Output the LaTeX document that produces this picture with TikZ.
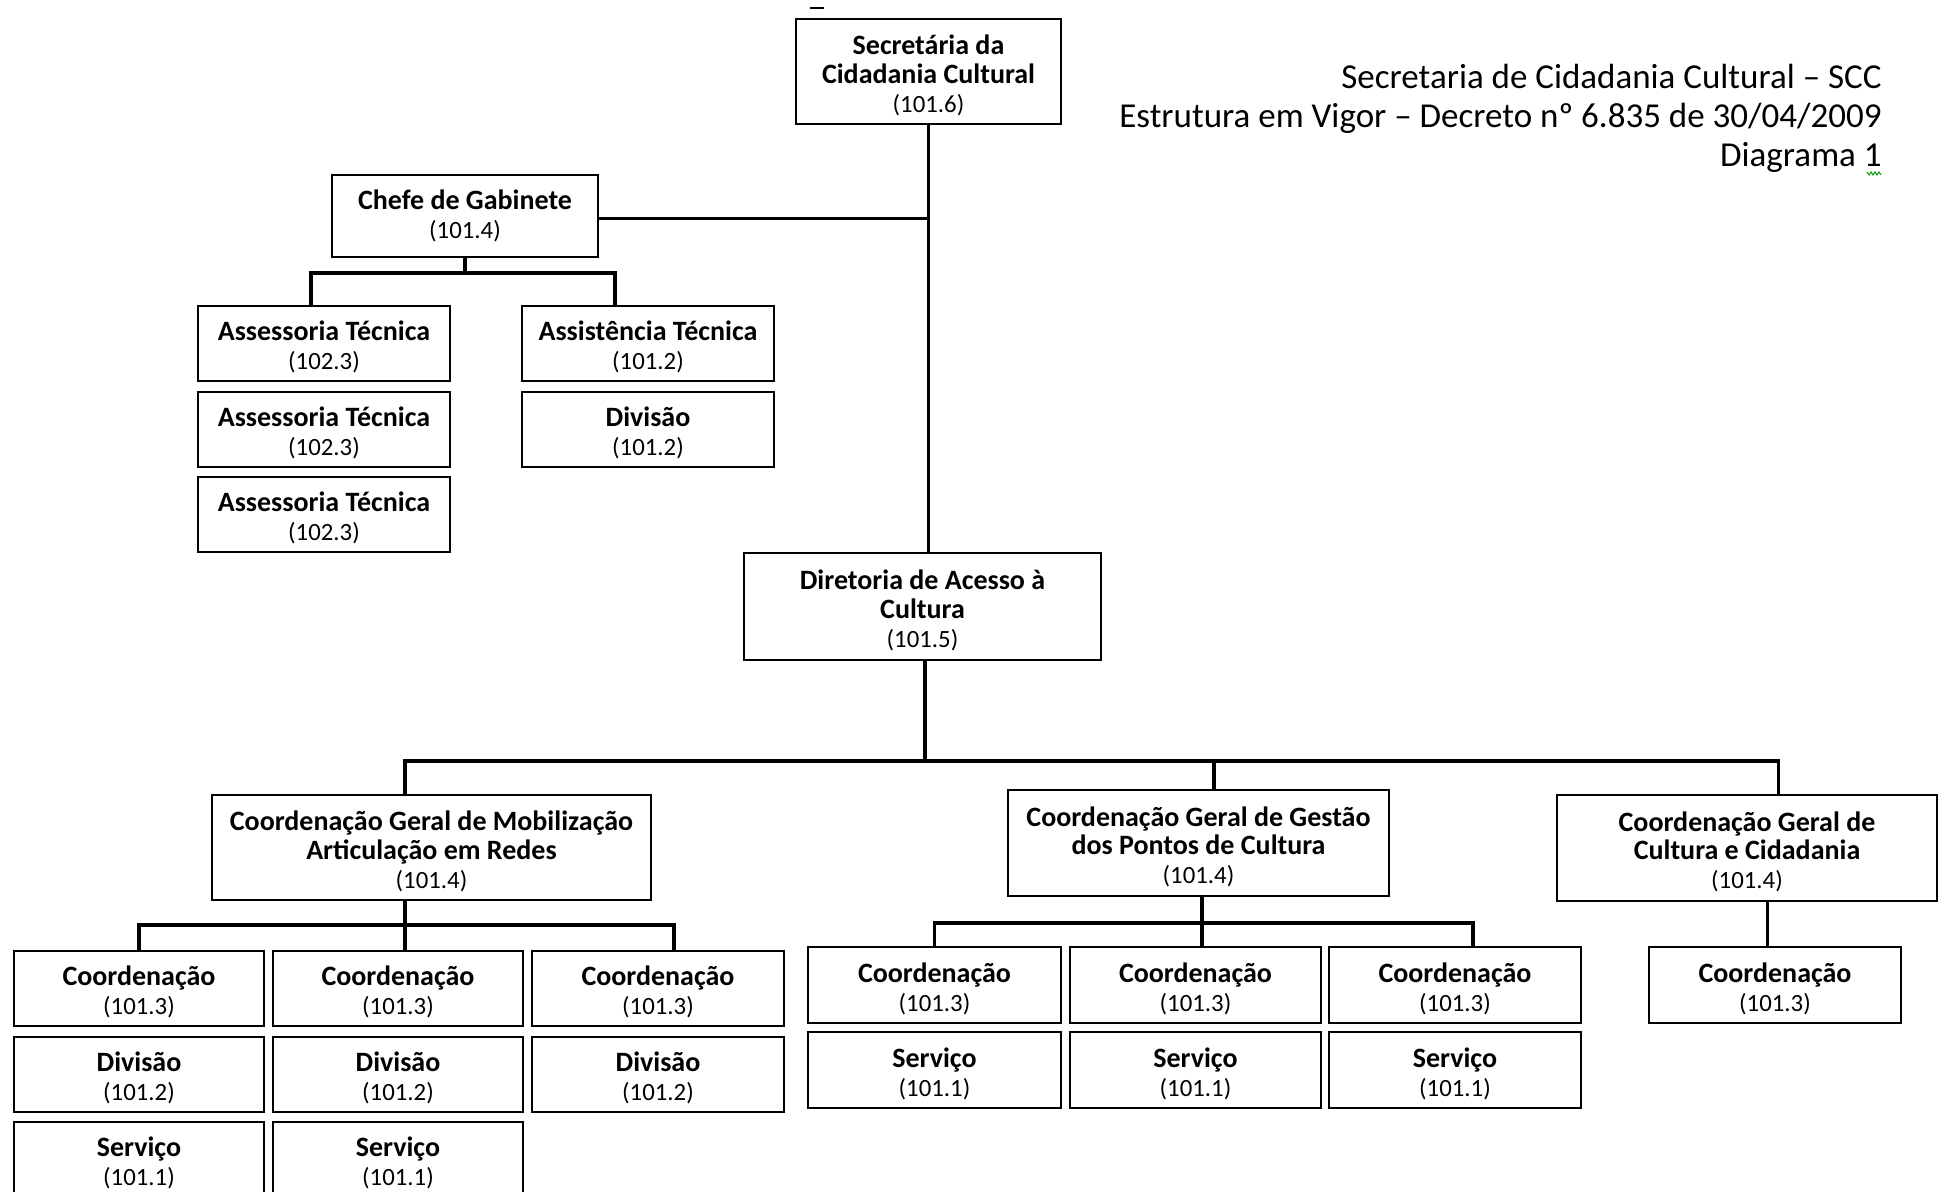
\documentclass[tikz,border=0pt]{standalone}
\usepackage{fontspec}
\setmainfont{Carlito}
\newcommand\nm[1]{{\mdseries\fontsize{12.4}{14.4}\selectfont(#1)}}
\newcommand\bxs{13.6pt}
\newcommand\bx[6]{%
  \pgfmathsetmacro\bxcx{(#2+#4)/2}%
  \pgfmathsetmacro\bxcy{(#3+#5)/2}%
  \pgfmathsetmacro\bxw{(#4-#2)/2}%
  \pgfmathsetmacro\bxh{(#5-#3)/2}%
  \node[ob, minimum width=\bxw pt, minimum height=\bxh pt] (#1) at (\bxcx,\bxcy) {\rule{0pt}{\bxs}#6};}
\tikzset{
  ob/.style={draw, line width=0.85pt, inner sep=0pt, align=center, fill=white,
    font=\bfseries\fontsize{14}{14.4}\selectfont},
  conn/.style={line width=1.7pt},
  ttl/.style={anchor=base east, inner sep=0pt, font=\fontsize{17.5}{19.5}\selectfont}
}
\begin{document}
\begin{tikzpicture}[x=0.5pt,y=-0.5pt]
\useasboundingbox (0,0) rectangle (1944,1192);
\clip (0,0) rectangle (1944,1192);
\fill[white] (0,0) rectangle (1944,1192);

% title
\node[ttl] (t1) at (1882,88.5) {Secretaria de Cidadania Cultural -- SCC};
\node[ttl] (t2) at (1882,127.5) {Estrutura em Vigor -- Decreto nº 6.835 de 30/04/2009};
\node[ttl] (t3) at (1882,166.5) {Diagrama 1};
\draw[green!60!black, line width=0.5pt] (1867,172) -- (1869,175) -- (1871,172) -- (1873,175) -- (1875,172) -- (1877,175) -- (1879,172) -- (1881,175);
\draw[line width=1pt] (810,8) -- (824,8);

% boxes
\bx{sec}{796}{19}{1061}{124}{Secretária da\\Cidadania Cultural\\\nm{101.6}}
\renewcommand\bxs{9pt}
\bx{chefe}{332}{175}{598}{257}{Chefe de Gabinete\\\nm{101.4}}
\renewcommand\bxs{13.6pt}
\bx{at1}{198}{306}{450}{381}{Assessoria Técnica\\\nm{102.3}}
\bx{at2}{198}{392}{450}{467}{Assessoria Técnica\\\nm{102.3}}
\bx{at3}{198}{477}{450}{552}{Assessoria Técnica\\\nm{102.3}}
\bx{asst}{522}{306}{774}{381}{Assistência Técnica\\\nm{101.2}}
\bx{dv0}{522}{392}{774}{467}{Divisão\\\nm{101.2}}
\bx{dir}{744}{553}{1101}{660}{Diretoria de Acesso à\\Cultura\\\nm{101.5}}
\bx{cgm}{212}{795}{651}{900}{Coordenação Geral de Mobilização\\Articulação em Redes\\\nm{101.4}}
\bx{cgg}{1008}{790}{1389}{896}{Coordenação Geral de Gestão\\dos Pontos de Cultura\\\nm{101.4}}
\bx{cgc}{1557}{795}{1937}{901}{Coordenação Geral de\\Cultura e Cidadania\\\nm{101.4}}

\bx{m11}{14}{951}{264}{1026}{Coordenação\\\nm{101.3}}
\bx{m12}{273}{951}{523}{1026}{Coordenação\\\nm{101.3}}
\bx{m13}{532}{951}{784}{1026}{Coordenação\\\nm{101.3}}
\bx{m21}{14}{1037}{264}{1112}{Divisão\\\nm{101.2}}
\bx{m22}{273}{1037}{523}{1112}{Divisão\\\nm{101.2}}
\bx{m23}{532}{1037}{784}{1112}{Divisão\\\nm{101.2}}
\bx{m31}{14}{1122}{264}{1197}{Serviço\\\nm{101.1}}
\bx{m32}{273}{1122}{523}{1197}{Serviço\\\nm{101.1}}

\bx{g11}{808}{947}{1061}{1023}{Coordenação\\\nm{101.3}}
\bx{g12}{1070}{947}{1321}{1023}{Coordenação\\\nm{101.3}}
\bx{g13}{1329}{947}{1581}{1023}{Coordenação\\\nm{101.3}}
\bx{g21}{808}{1032}{1061}{1108}{Serviço\\\nm{101.1}}
\bx{g22}{1070}{1032}{1321}{1108}{Serviço\\\nm{101.1}}
\bx{g23}{1329}{1032}{1581}{1108}{Serviço\\\nm{101.1}}

\bx{k1}{1649}{947}{1901}{1023}{Coordenação\\\nm{101.3}}

% bus levels
\coordinate (cbus) at (0,273);
\coordinate (mbus) at (0,761);
\coordinate (mobbus) at (0,925);
\coordinate (gesbus) at (0,923);

% connectors
\draw[conn] (sec.south) -- (sec.south |- dir.north);
\draw[conn] ([yshift=-1.25pt]chefe.east) -- ([yshift=-1.25pt]chefe.east -| sec.south);

\draw[conn] (chefe.south) -- (chefe.south |- cbus);
\draw[conn] ([xshift=-6.5pt]at1.north) -- ([xshift=-6.5pt]at1.north |- cbus)
  -- ([xshift=-16.5pt]asst.north |- cbus) -- ([xshift=-16.5pt]asst.north);

\draw[conn] ([xshift=1.25pt]dir.south) -- ([xshift=1.25pt]dir.south |- mbus);
\draw[conn] ([xshift=-13.25pt]cgm.north) -- ([xshift=-13.25pt]cgm.north |- mbus)
  -- ([xshift=15.75pt]cgc.north |- mbus) -- ([xshift=15.75pt]cgc.north);
\draw[conn] ([xshift=7.75pt]cgg.north) -- ([xshift=7.75pt]cgg.north |- mbus);

\draw[conn] ([xshift=-13.25pt]cgm.south) -- ([xshift=-13.25pt]cgm.south |- m12.north);
\draw[conn] (m11.north) -- (m11.north |- mobbus)
  -- ([xshift=8pt]m13.north |- mobbus) -- ([xshift=8pt]m13.north);

\draw[conn] ([xshift=1.75pt]cgg.south) -- ([xshift=1.75pt]cgg.south |- g12.north);
\draw[conn] (g11.north) -- (g11.north |- gesbus)
  -- ([xshift=9pt]g13.north |- gesbus) -- ([xshift=9pt]g13.north);

\draw[conn] ([xshift=10.25pt]cgc.south) -- ([xshift=10.25pt]cgc.south |- k1.north);
\end{tikzpicture}
\end{document}
